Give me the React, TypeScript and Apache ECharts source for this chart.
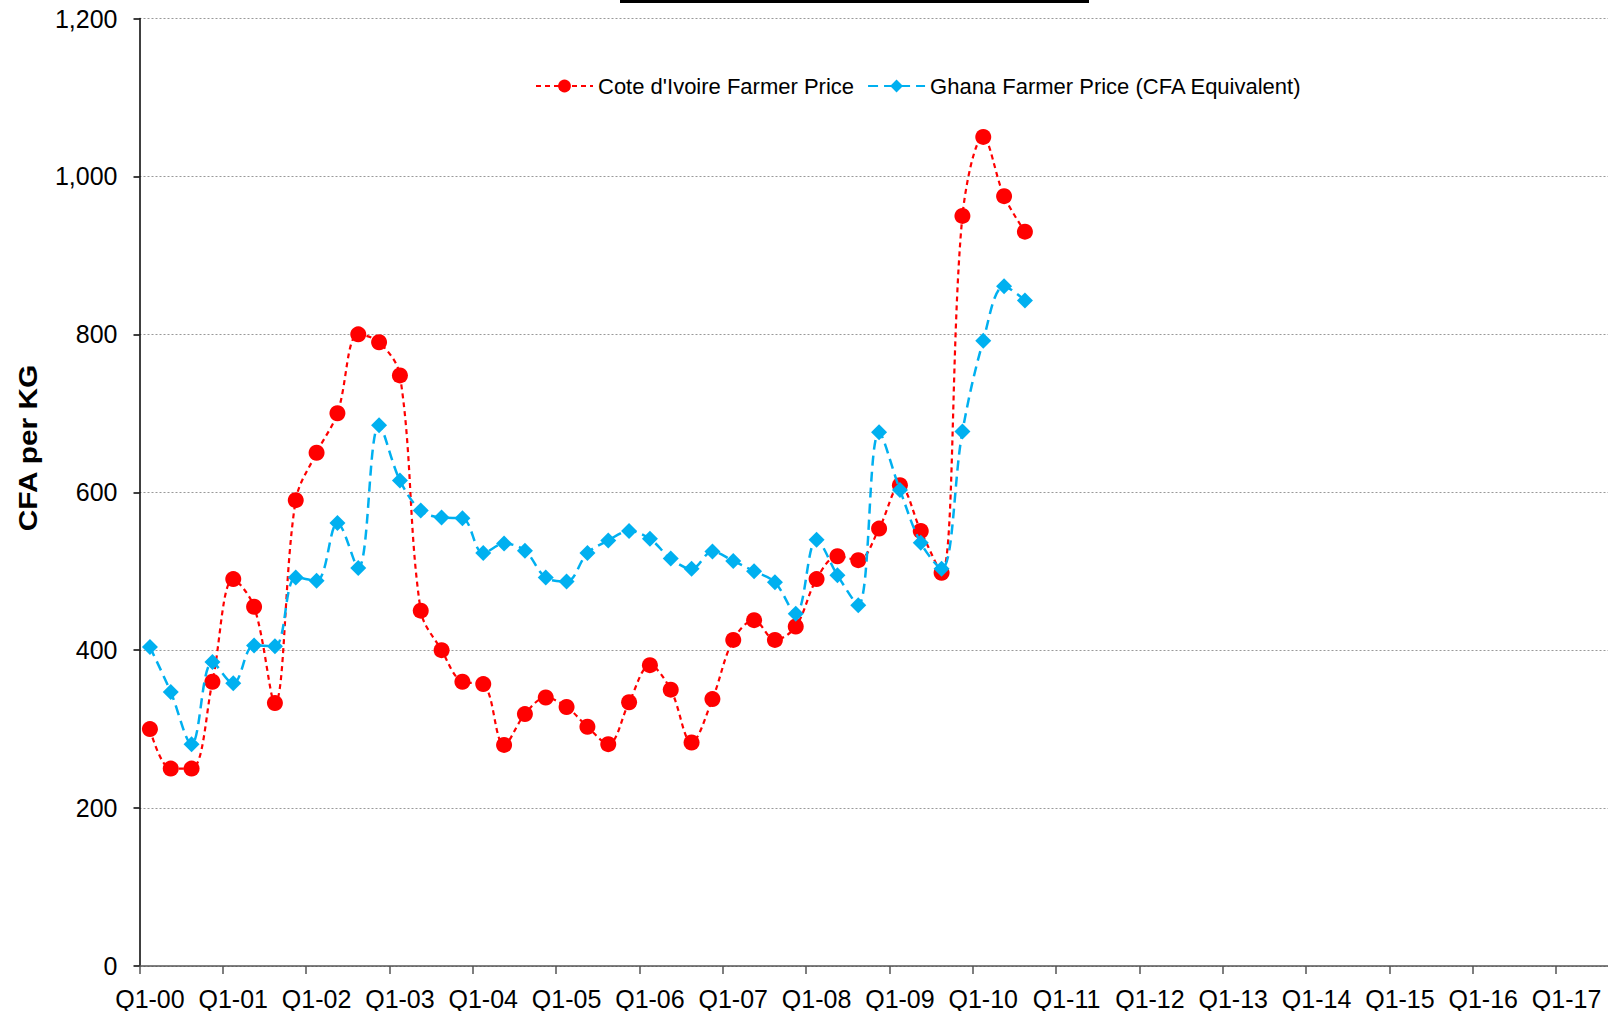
import React, { useEffect, useRef } from "react";
import * as echarts from "echarts";

const years: string[] = ["00","01","02","03","04","05","06","07","08","09","10","11","12","13","14","15","16","17"];
const quarters: string[] = ["Q1","Q2","Q3","Q4"];
const categories: string[] = years.flatMap((y) => quarters.map((q) => `${q}-${y}`));

const coteDIvoire: number[] = [
  300, 250, 250, 360, 490, 455, 333, 590, 650, 700, 800, 790, 748, 450, 400, 360,
  357, 280, 319, 340, 328, 303, 281, 334, 381, 350, 283, 338, 413, 438, 413, 430,
  490, 519, 514, 554, 609, 551, 498, 950, 1050, 975, 930,
];

const ghana: number[] = [
  404, 347, 281, 385, 358, 406, 405, 492, 488, 561, 504, 685, 615, 577, 568, 567,
  523, 535, 526, 492, 487, 523, 539, 551, 541, 516, 503, 525, 513, 500, 486, 446,
  540, 495, 457, 676, 603, 536, 503, 677, 792, 861, 843,
];

const seriesNames: string[] = ["Cote d'Ivoire Farmer Price", "Ghana Farmer Price (CFA Equivalent)"];
const yAxisName = "CFA per KG";

const FONT = "'Liberation Sans', Arial, Helvetica, sans-serif";

export default function App() {
  const ref = useRef<HTMLDivElement>(null);
  useEffect(() => {
    if (!ref.current) return;
    const chart = echarts.init(ref.current, undefined, { renderer: "svg" });
    chart.setOption({
      animation: false,
      backgroundColor: "#ffffff",
      textStyle: { fontFamily: FONT },
      grid: { left: 139.5, right: 0.5, top: 18.5, bottom: 45, containLabel: false },
      legend: {
        left: 530,
        top: 70,
        itemWidth: 57,
        itemHeight: 16,
        itemGap: 13,
        textStyle: { fontSize: 22, color: "#000", fontFamily: FONT },
        data: seriesNames,
      },
      graphic: [
        { type: "rect", left: 620, top: 0, shape: { width: 469, height: 3 }, style: { fill: "#000" }, z: 100 },
        {
          type: "text",
          x: 28,
          y: 448,
          rotation: Math.PI / 2,
          scaleX: 1.15,
          style: {
            text: yAxisName,
            fontSize: 26,
            fontWeight: "bold",
            fill: "#000",
            fontFamily: FONT,
            align: "center",
            verticalAlign: "middle",
          },
          z: 100,
        },
      ],
      xAxis: {
        type: "category",
        data: categories,
        boundaryGap: true,
        axisLine: { show: true, lineStyle: { color: "#555", width: 1.5 } },
        axisTick: { show: true, interval: 3, length: 8, lineStyle: { color: "#555", width: 1.5 } },
        axisLabel: { interval: 3, fontSize: 25, color: "#000", margin: 20, fontFamily: FONT },
        splitLine: { show: false },
      },
      yAxis: {
        type: "value",
        min: 0,
        max: 1200,
        interval: 200,
        axisLine: { show: true, lineStyle: { color: "#000", width: 1.5 } },
        axisTick: { show: true, length: 6, lineStyle: { color: "#000", width: 1.5 } },
        axisLabel: {
          fontSize: 25,
          color: "#000",
          margin: 22,
          fontFamily: FONT,
          formatter: (v: number) => v.toLocaleString("en-US"),
        },
        splitLine: { show: true, lineStyle: { color: "#999", width: 1, type: [2, 2] } },
      },
      series: [
        {
          name: seriesNames[0],
          type: "line",
          data: coteDIvoire,
          smooth: 0.35,
          showAllSymbol: true,
          symbol: "circle",
          symbolSize: 16,
          itemStyle: { color: "#FF0000" },
          lineStyle: { color: "#FF0000", width: 2.2, type: [5, 4] },
          z: 3,
        },
        {
          name: seriesNames[1],
          type: "line",
          data: ghana,
          smooth: 0.35,
          showAllSymbol: true,
          symbol: "diamond",
          symbolSize: 16,
          itemStyle: { color: "#00B0F0" },
          lineStyle: { color: "#00B0F0", width: 2.5, type: [10, 6] },
          z: 4,
        },
      ],
    });
    return () => chart.dispose();
  }, []);
  return (
    <div
      style={{ position: "fixed", left: 0, top: 0, width: 1608, height: 1011, overflow: "hidden", background: "#fff" }}
    >
      <div ref={ref} style={{ width: 1640, height: 1011 }} />
    </div>
  );
}
